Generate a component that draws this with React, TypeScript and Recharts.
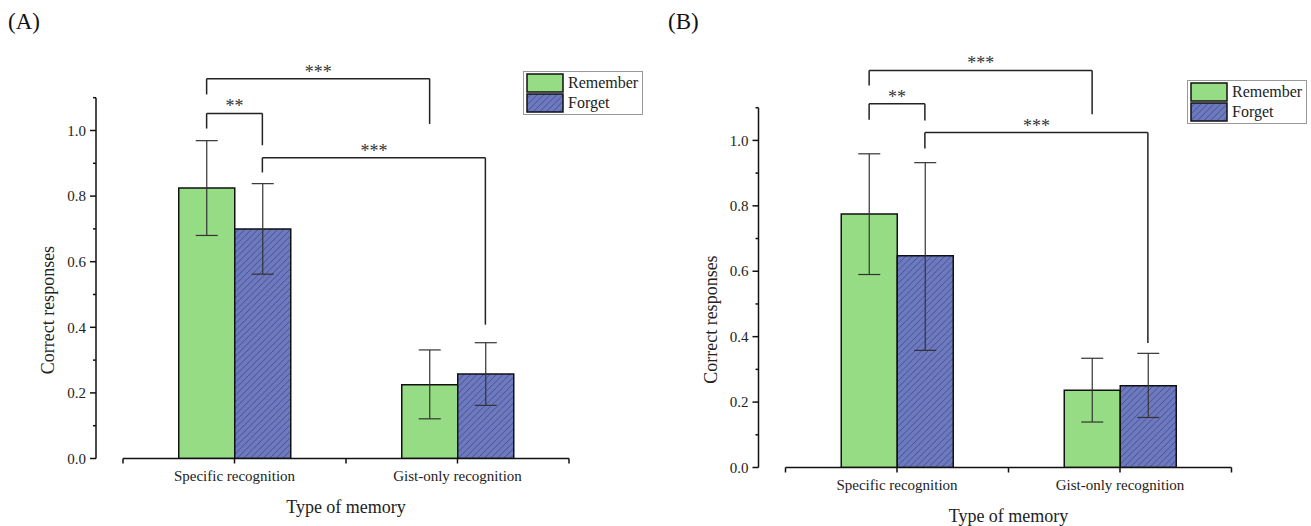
import { ComposedChart, Bar, ErrorBar, XAxis, YAxis, ReferenceLine, Legend } from 'recharts'

const FONT = '"Liberation Serif", "Times New Roman", serif'

const categories = ['Specific recognition', 'Gist-only recognition']
const seriesNames = ['Remember', 'Forget']
const yTicks = [0, 0.1, 0.2, 0.3, 0.4, 0.5, 0.6, 0.7, 0.8, 0.9, 1.0, 1.1]
const xTicks = [0, 0.5, 1, 1.5, 2]

// panel (A)
const rememberA = [0.825, 0.225]
const rememberLowA = [0.68, 0.121]
const rememberHighA = [0.969, 0.331]
const forgetA = [0.7, 0.258]
const forgetLowA = [0.562, 0.162]
const forgetHighA = [0.838, 0.353]

// panel (B)
const rememberB = [0.775, 0.236]
const rememberLowB = [0.59, 0.139]
const rememberHighB = [0.959, 0.334]
const forgetB = [0.647, 0.25]
const forgetLowB = [0.358, 0.153]
const forgetHighB = [0.932, 0.349]

// significance brackets: [category, series] at each end, bar height, end heights
type Bracket = { from: [number, number]; to: [number, number]; top: number; endFrom: number; endTo: number; label: string }

const bracketsA: Bracket[] = [
  { from: [0, 0], to: [1, 0], top: 1.158, endFrom: 1.11, endTo: 1.02, label: '***' },
  { from: [0, 0], to: [0, 1], top: 1.052, endFrom: 1.006, endTo: 0.955, label: '**' },
  { from: [0, 1], to: [1, 1], top: 0.917, endFrom: 0.872, endTo: 0.408, label: '***' },
]
const bracketsB: Bracket[] = [
  { from: [0, 0], to: [1, 0], top: 1.214, endFrom: 1.168, endTo: 1.08, label: '***' },
  { from: [0, 0], to: [0, 1], top: 1.112, endFrom: 1.063, endTo: 1.061, label: '**' },
  { from: [0, 1], to: [1, 1], top: 1.024, endFrom: 0.975, endTo: 0.381, label: '***' },
]

const GREEN = '#95dc84'
const BLUE = '#6e7ac0'
const HATCH = '#2a3168'
const CAT_GAP = 0.25
const AXIS_SHIFT = 27

// centre of a bar on the numeric 0..2 axis
function barCenter(cat: number, s: number) {
  const w = (1 - 2 * CAT_GAP) / seriesNames.length
  return cat + CAT_GAP + (s + 0.5) * w
}

function buildRows(rem: number[], remLo: number[], remHi: number[], fo: number[], foLo: number[], foHi: number[]) {
  return categories.map((name, i) => ({
    name,
    pos: i + 0.5,
    remember: rem[i],
    rememberErr: [rem[i] - remLo[i], remHi[i] - rem[i]],
    forget: fo[i],
    forgetErr: [fo[i] - foLo[i], foHi[i] - fo[i]],
  }))
}

function YTick(props: any) {
  const { x, y, payload } = props
  const v = payload.value
  const major = Math.round(v * 10) % 2 === 0
  const ax = x - AXIS_SHIFT
  return (
    <g>
      <line x1={ax - (major ? 6 : 3)} y1={y} x2={ax} y2={y} stroke="#111" strokeWidth={1.5} />
      {major && (
        <text x={ax - 10} y={y} dy="0.35em" textAnchor="end" fontSize={15} fill="#222" fontFamily={FONT}>
          {v.toFixed(1)}
        </text>
      )}
    </g>
  )
}

function LegendBox({ hatchId }: { hatchId: string }) {
  const fills = [GREEN, `url(#${hatchId})`]
  return (
    <div style={{ border: '1px solid #999', background: '#fff', padding: '1px 4px 1px 2px', fontFamily: FONT, fontSize: 16, color: '#222' }}>
      {seriesNames.map((n, i) => (
        <div key={n} style={{ display: 'flex', alignItems: 'center', height: 20 }}>
          <svg width={38} height={20} style={{ display: 'block' }}>
            <rect x={1} y={1} width={36} height={18} fill={fills[i]} stroke="#111" strokeWidth={1.5} />
          </svg>
          <span style={{ marginLeft: 4 }}>{n}</span>
        </div>
      ))}
    </div>
  )
}

type PanelProps = {
  tag: string
  tagX: number
  left: number
  width: number
  margin: { top: number; right: number; bottom: number; left: number }
  legendPos: { left: number; top: number }
  rows: any[]
  brackets: Bracket[]
  hatchId: string
}

function Panel({ tag, tagX, left, width, margin, legendPos, rows, brackets, hatchId }: PanelProps) {
  return (
    <div style={{ position: 'absolute', left, top: 0 }}>
      <ComposedChart width={width} height={526} data={rows} margin={margin} barCategoryGap={`${CAT_GAP * 100}%`} barGap={0}>
        <defs>
          <pattern id={hatchId} patternUnits="userSpaceOnUse" width={6.5} height={6.5}>
            <rect width={6.5} height={6.5} fill={BLUE} />
            <path d="M-1,1 l2,-2 M0,6.5 l6.5,-6.5 M5.5,7.5 l2,-2" stroke={HATCH} strokeWidth={0.6} />
          </pattern>
        </defs>
        <text x={tagX} y={29} fontSize={23} fontFamily={FONT} fill="#111">
          {tag}
        </text>
        <XAxis xAxisId="cat" dataKey="name" type="category" hide height={0} />
        <XAxis
          xAxisId="num"
          dataKey="pos"
          type="number"
          domain={[0, 2]}
          allowDataOverflow
          ticks={xTicks}
          interval={0}
          height={54}
          tickSize={5}
          tickMargin={7}
          tickFormatter={(v: number) => (v % 1 === 0.5 ? categories[Math.floor(v)] : '')}
          tick={{ fontSize: 15, fill: '#222', fontFamily: FONT }}
          axisLine={{ stroke: '#111', strokeWidth: 1.5 }}
          tickLine={{ stroke: '#111', strokeWidth: 1.5 }}
          label={{ value: 'Type of memory', position: 'insideBottom', offset: 0, fontSize: 18, fill: '#222', fontFamily: FONT }}
        />
        <YAxis
          domain={[0, 1.1]}
          allowDataOverflow
          ticks={yTicks}
          interval={0}
          width={70}
          tickSize={0}
          tickMargin={0}
          tick={(p: any) => <YTick {...p} />}
          axisLine={{ stroke: '#111', strokeWidth: 1.5, transform: `translate(${-AXIS_SHIFT},0)` }}
          label={{ value: 'Correct responses', angle: -90, position: 'center', dx: -40, dy: 32, fontSize: 18, fill: '#222', fontFamily: FONT }}
        />
        <Legend
          layout="vertical"
          align="center"
          verticalAlign="middle"
          wrapperStyle={{ left: legendPos.left, top: legendPos.top }}
          content={() => <LegendBox hatchId={hatchId} />}
        />
        <Bar xAxisId="cat" dataKey="remember" name={seriesNames[0]} fill={GREEN} stroke="#111" strokeWidth={1.5} isAnimationActive={false}>
          <ErrorBar dataKey="rememberErr" width={11} stroke="#333" strokeWidth={1.2} />
        </Bar>
        <Bar xAxisId="cat" dataKey="forget" name={seriesNames[1]} fill={`url(#${hatchId})`} stroke="#111" strokeWidth={1.5} isAnimationActive={false}>
          <ErrorBar dataKey="forgetErr" width={11} stroke="#333" strokeWidth={1.2} />
        </Bar>
        {brackets.flatMap((b, i) => {
          const x1 = barCenter(b.from[0], b.from[1])
          const x2 = barCenter(b.to[0], b.to[1])
          const common = { xAxisId: 'num', stroke: '#222', strokeWidth: 1.5, ifOverflow: 'visible' as const }
          return [
            <ReferenceLine
              key={`h${i}`}
              {...common}
              segment={[{ x: x1, y: b.top }, { x: x2, y: b.top }]}
              label={{ value: b.label, position: 'top', offset: 1, fontSize: 18, fill: '#333', fontFamily: FONT }}
            />,
            <ReferenceLine key={`l${i}`} {...common} segment={[{ x: x1, y: b.top }, { x: x1, y: b.endFrom }]} />,
            <ReferenceLine key={`r${i}`} {...common} segment={[{ x: x2, y: b.top }, { x: x2, y: b.endTo }]} />,
          ]
        })}
      </ComposedChart>
    </div>
  )
}

export default function App() {
  const rowsA = buildRows(rememberA, rememberLowA, rememberHighA, forgetA, forgetLowA, forgetHighA)
  const rowsB = buildRows(rememberB, rememberLowB, rememberHighB, forgetB, forgetLowB, forgetHighB)
  return (
    <div style={{ position: 'absolute', left: 0, top: 0, width: 1311, height: 526, background: '#fff' }}>
      <Panel
        tag="(A)"
        tagX={8}
        left={0}
        width={655}
        margin={{ top: 97.7, right: 86, bottom: 13.5, left: 53 }}
        legendPos={{ left: 523, top: 71 }}
        rows={rowsA}
        brackets={bracketsA}
        hatchId="hatchA"
      />
      <Panel
        tag="(B)"
        tagX={13}
        left={655}
        width={656}
        margin={{ top: 107.7, right: 79.5, bottom: 4.5, left: 60.5 }}
        legendPos={{ left: 532, top: 80 }}
        rows={rowsB}
        brackets={bracketsB}
        hatchId="hatchB"
      />
    </div>
  )
}
